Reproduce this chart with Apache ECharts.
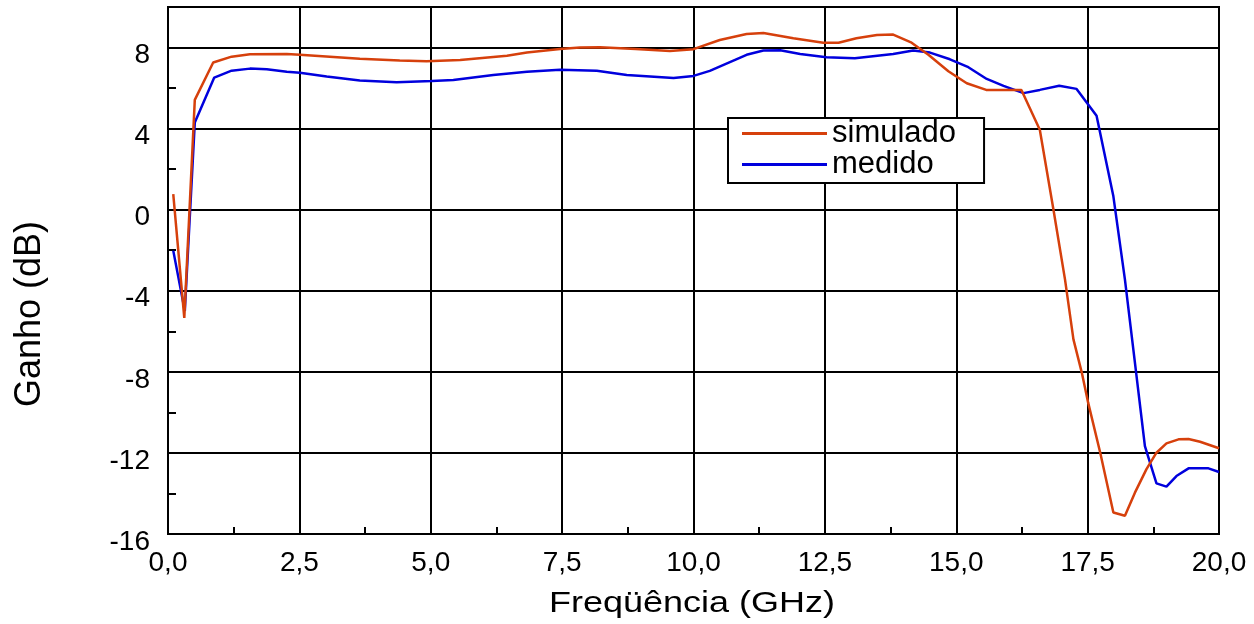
<!DOCTYPE html>
<html>
<head>
<meta charset="utf-8">
<script src="https://cdn.jsdelivr.net/npm/echarts@6/dist/echarts.min.js"></script>
<style>
html,body{margin:0;padding:0;background:#fff;}
#chart{width:1254px;height:624px;}
</style>
</head>
<body>
<div id="chart"></div>
<script>
// Frequency (GHz) and gain (dB)
const simFreq = [0.10,0.31,0.51,0.86,1.21,1.56,2.26,2.51,3.65,4.41,4.92,5.56,6.45,6.83,7.46,7.84,8.22,8.90,9.55,10.0,10.5,11.01,11.33,11.9,12.47,12.76,13.1,13.49,13.8,14.15,14.47,14.85,15.2,15.57,16.24,16.59,16.85,17.07,17.23,17.39,17.51,17.74,17.99,18.21,18.40,18.62,18.81,19.0,19.23,19.42,19.64,20.0];
const simGain = [0.77,-5.34,5.42,7.26,7.55,7.67,7.68,7.64,7.45,7.36,7.32,7.39,7.60,7.75,7.93,8.0,8.02,7.93,7.83,7.92,8.37,8.67,8.72,8.46,8.24,8.24,8.46,8.62,8.64,8.24,7.64,6.83,6.24,5.91,5.91,3.94,0,-3.45,-6.4,-8.05,-9.52,-11.99,-14.94,-15.1,-13.96,-12.8,-11.99,-11.53,-11.33,-11.31,-11.45,-11.77];
const medFreq = [0.10,0.32,0.51,0.88,1.21,1.56,1.88,2.26,2.51,3.02,3.65,4.35,5.02,5.43,6.19,6.83,7.46,8.16,8.73,9.62,10.0,10.31,11.01,11.33,11.65,12.03,12.53,13.07,13.8,14.18,14.5,14.88,15.23,15.58,15.9,16.28,16.59,16.96,17.29,17.67,17.99,18.21,18.40,18.59,18.81,19.0,19.19,19.42,19.80,20.0];
const medGain = [-2.02,-5.0,4.30,6.52,6.86,6.96,6.93,6.81,6.76,6.57,6.37,6.29,6.35,6.40,6.65,6.81,6.90,6.85,6.65,6.50,6.60,6.85,7.64,7.85,7.87,7.68,7.52,7.47,7.68,7.85,7.75,7.42,7.03,6.45,6.11,5.75,5.91,6.11,5.96,4.63,0.66,-3.45,-7.55,-11.66,-13.5,-13.66,-13.14,-12.76,-12.76,-12.94];
const seriesNames = ['simulado','medido'];
const xTitle = 'Freqüência (GHz)';
const yTitle = 'Ganho (dB)';

const FONT = "'Liberation Sans', Arial, Helvetica, sans-serif";
const pairs = (xs, ys) => xs.map((x, i) => [x, ys[i]]);

const chart = echarts.init(document.getElementById('chart'), null, {renderer: 'canvas'});
chart.setOption({
  animation: false,
  backgroundColor: '#fff',
  grid: {left: 168, right: 35, top: 7, bottom: 90, show: true, borderColor: '#000', borderWidth: 2, backgroundColor: 'transparent'},
  xAxis: [{
    type: 'value', min: 0, max: 20, interval: 2.5, position: 'bottom',
    axisLine: {show: true, onZero: false, lineStyle: {color: '#000', width: 2}},
    axisTick: {show: false},
    axisLabel: {color: '#000', fontSize: 28, fontFamily: FONT, margin: 15,
      formatter: v => v.toFixed(1).replace('.', ',')},
    splitLine: {show: true, lineStyle: {color: '#000', width: 2}}
  }, {
    type: 'value', min: 0, max: 20, interval: 1.25, position: 'bottom',
    axisLine: {show: false, onZero: false},
    axisTick: {show: true, inside: true, length: 7, lineStyle: {color: '#000', width: 2}},
    axisLabel: {show: false}, splitLine: {show: false}
  }],
  yAxis: [{
    type: 'value', min: -16, max: 10, interval: 4, position: 'left',
    axisLine: {show: true, onZero: false, lineStyle: {color: '#000', width: 2}},
    axisTick: {show: false},
    axisLabel: {color: '#000', fontSize: 28, fontFamily: FONT, margin: 18, showMaxLabel: false,
      verticalAlign: 'top', lineHeight: 16,
      formatter: v => (v > 8 ? '' : String(v))},
    splitLine: {show: true, lineStyle: {color: '#000', width: 2}}
  }, {
    type: 'value', min: -16, max: 10, interval: 2, position: 'left',
    axisLine: {show: false, onZero: false},
    axisTick: {show: true, inside: true, length: 8, lineStyle: {color: '#000', width: 2}},
    axisLabel: {show: false}, splitLine: {show: false}
  }],
  legend: {
    data: seriesNames, orient: 'vertical', left: 728, top: 118,
    padding: [0, 28, 3, 14], itemGap: 0, itemWidth: 85, itemHeight: 3,
    borderColor: '#000', borderWidth: 2, backgroundColor: '#fff', borderRadius: 0,
    textStyle: {color: '#000', fontSize: 31, fontFamily: FONT, lineHeight: 30},
    icon: 'rect'
  },
  graphic: [{
    type: 'text', x: 30, y: 314, rotation: Math.PI / 2,
    style: {text: yTitle, font: "36px " + FONT, fill: '#000', textAlign: 'center', textVerticalAlign: 'middle'}
  }, {
    type: 'text', x: 692, y: 604, scaleX: 1.2,
    style: {text: xTitle, font: "30px " + FONT, fill: '#000', textAlign: 'center', textVerticalAlign: 'middle'}
  }],
  series: [{
    name: seriesNames[0], type: 'line', xAxisIndex: 0, yAxisIndex: 0,
    data: pairs(simFreq, simGain), symbol: 'none', smooth: false,
    lineStyle: {color: '#d6400c', width: 2.5}, itemStyle: {color: '#d6400c'}, z: 3
  }, {
    name: seriesNames[1], type: 'line', xAxisIndex: 0, yAxisIndex: 0,
    data: pairs(medFreq, medGain), symbol: 'none', smooth: false,
    lineStyle: {color: '#0000dd', width: 2.5}, itemStyle: {color: '#0000dd'}, z: 2
  }]
});
</script>
</body>
</html>
